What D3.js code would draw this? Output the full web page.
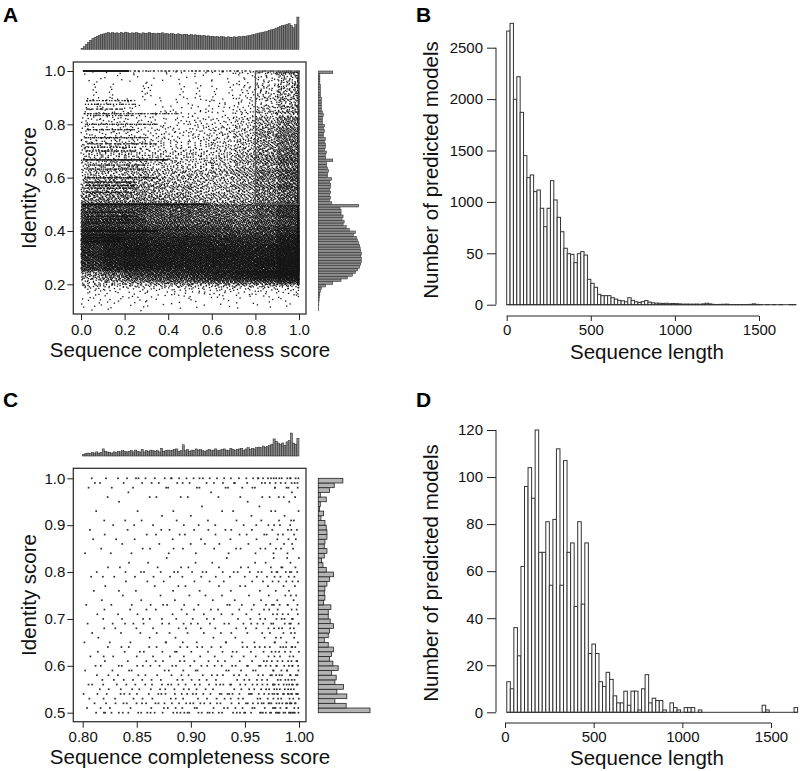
<!DOCTYPE html>
<html><head><meta charset="utf-8">
<script src="https://cdn.jsdelivr.net/npm/d3@7"></script>
<style>
html,body{margin:0;padding:0;background:#fff;}
svg text{font-family:"Liberation Sans",Arial,Helvetica,sans-serif;}
</style></head>
<body><svg id="fig" width="800" height="771" xmlns="http://www.w3.org/2000/svg"></svg>
<script>
// ====================== DATA ======================
// Panel A – top marginal: sequence completeness, 100 bins of 0.01 (0 -> 1)
const complBinA = 0.01;
const complA = [12,32,60,84,108,128,144,156,168,176,184,192,200,188,200,192,196,188,200,192,
 204,196,188,196,192,200,192,184,196,188,192,200,188,192,184,192,188,196,184,188,
 180,188,184,176,184,180,172,180,176,168,176,168,172,164,168,160,164,156,160,152,
 156,148,152,144,152,148,140,148,144,140,148,144,152,148,156,152,160,164,172,176,
 184,192,196,204,208,216,224,232,240,252,260,272,280,288,296,304,280,256,292,384];
// Panel A – right marginal: identity score, bins of 0.01, upper edges 0.11 ... 1.00
const identFirstUpperA = 0.11, identBinA = 0.01;
const identA = [3,4,5,6,8,10,15,20,30,70,140,220,280,330,360,380,400,410,415,418,
 412,418,410,405,400,390,380,370,340,360,300,270,240,250,230,240,220,220,210,390,
 130,110,120,110,120,110,120,120,110,130,90,90,100,90,80,80,140,70,70,80,
 60,70,70,60,70,50,50,60,50,60,40,40,40,50,40,30,30,30,30,30,
 20,20,20,20,20,15,15,15,15,140];
// Panel A – scatter: points per identity bin = identA x scale; spread over completeness
// columns (0.1 wide) with these weights, per identity band (0.05 high)
const scatterScaleA = 1.85;
const bandLowA = [0.10,0.15,0.20,0.25,0.30,0.35,0.40,0.45,0.50,0.55,0.60,0.65,0.70,0.75,0.80,0.85,0.90,0.95];
const bandHeightA = 0.05, colWidthA = 0.1;
const bandWeightsA = [
 [3,2,2,1,1,1,1,1,1,1],
 [6,6,6,6,7,7,7,8,8,8],
 [3,5,7,8,9,10,11,12,14,16],
 [7,9,10,10,10,10,10,10,11,13],
 [8,10,11,10,10,10,10,10,10,12],
 [10,11,11,10,10,10,9,9,9,12],
 [12,12,11,10,10,9,9,8,9,11],
 [11,11,11,10,10,9,8,8,10,13],
 [10,10,10,9,8,7,7,8,11,15],
 [6,7,8,8,7,6,6,8,12,17],
 [5,6,7,6,6,6,7,9,13,19],
 [5,6,6,5,5,5,6,9,14,21],
 [5,5,5,4,4,5,6,9,15,23],
 [4,4,4,4,4,5,6,9,16,25],
 [4,4,3,3,3,4,5,9,17,27],
 [4,4,3,2,3,4,5,8,17,29],
 [3,3,2,2,2,3,4,7,16,30],
 [2,2,2,2,2,3,4,7,15,32]];
// points sitting at completeness = 1.0, per band
const edgeCountA = [0,3,60,110,110,90,70,60,45,35,30,25,22,20,20,18,18,18];
// discrete identity values forming dotted horizontal lines
const stripeIdentA = [1.00,1.00,0.889,0.875,0.857,0.84,0.833,0.80,0.78,0.75,0.727,0.714,0.70,0.667,0.647,0.632,0.60,0.583,0.571,0.56,0.545,0.50,0.47,0.455,0.444,0.43,0.40,0.385,0.375,0.36];
const stripeFromA  = [0.01,0.22,0.02,0.02,0.02,0.01,0.02,0.02,0.02,0.02,0.02,0.02,0.02,0.01,0.02,0.02,0.02,0.02,0.02,0.02,0.02,0.01,0.02,0.02,0.02,0.02,0.01,0.02,0.02,0.02];
const stripeToA    = [0.22,0.78,0.25,0.25,0.20,0.45,0.25,0.35,0.25,0.30,0.35,0.25,0.25,0.40,0.30,0.30,0.35,0.25,0.25,0.25,0.25,0.58,0.25,0.25,0.30,0.25,0.35,0.20,0.20,0.20];
const stripeCountA = [130,50,25,25,20,50,20,40,25,40,40,30,30,110,35,35,60,45,40,35,35,260,40,40,40,35,140,35,35,30];
const highlightA = {compl:[0.8,1.0], ident:[0.5,1.0]};
const xTicksA = [0,0.2,0.4,0.6,0.8,1.0], xTickLabelsA = ["0.0","0.2","0.4","0.6","0.8","1.0"];
const yTicksA = [0.2,0.4,0.6,0.8,1.0], yTickLabelsA = ["0.2","0.4","0.6","0.8","1.0"];

// Panel B – histogram of sequence length, bins of 20 from 0
const binStartB = 0, binWidthB = 20;
const countsB = [2662,2737,1998,2218,1871,1450,1236,1262,1100,1116,938,759,938,1207,1019,850,710,549,496,490,
 409,496,516,483,247,208,169,101,88,88,88,68,55,42,38,28,68,42,28,
 22,30,40,25,18,15,14,12,14,10,12,10,8,5,6,5,5,6,4,8,14,8,3,2,3,4,5,2,1,2,1,1,2,3,8,3,1,0,1,0,1,0,1,0,0,1,1];
const xTicksB = [0,500,1000,1500];
const yTicksB = [0,500,1000,1500,2000,2500], yTickLabelsB = ["0","50","1000","1500","2000","2500"];

// Panel C – top marginal: completeness, 100 bins of 0.002 (0.80 -> 1.00)
const complStartC = 0.8, complBinC = 0.002;
const complC = [3,4,5,4,6,5,7,5,6,12, 8,7,6,5,7,6,8,7,9,8, 7,8,9,7,10,8,7,11,7,9,
 8,10,9,8,9,7,13,8,9,10, 9,10,11,12,8,9,19,9,11,8, 10,9,12,10,11,9,8,10,11,9,
 10,12,9,10,11,12,10,9,13,11, 10,11,12,13,10,12,14,11,13,12,
 14,15,14,17,15,16,18,20,29,25, 22,20,22,18,24,26,39,22,20,30];
// Panel C – right marginal: identity, bins of 0.01 from [0.50,0.51] up to (0.99,1.00]
const identStartC = 0.5, identBinC = 0.01;
const identC = [78,42,25,43,28,38,25,27,20,30,22,17,20,23,15,9,15,17,23,18,
 15,15,19,8,10,9,10,13,17,23,12,7,5,9,13,9,10,13,13,12,
 10,4,8,2,3,12,3,17,24,37];
const firstRowsC = [0.50,0.51], firstShareC = 0.65;
const xTicksC = [0.80,0.85,0.90,0.95,1.00], xTickLabelsC = ["0.80","0.85","0.90","0.95","1.00"];
const yTicksC = [0.5,0.6,0.7,0.8,0.9,1.0], yTickLabelsC = ["0.5","0.6","0.7","0.8","0.9","1.0"];

// Panel D – histogram of sequence length, bins of 20 from 10
const binStartD = 10, binWidthD = 20;
const countsD = [13,10,36,24,62,96,104,91,120,68,68,81,54,82,112,54,107,68,72,45,81,46,72,
 25,29,25,13,11,17,14,7,4,4,9,3,9,9,1,10,16,4,6,5,5,1,0,4,2,1,0,2,2,2,0,1,
 0,0,0,0,0,0,0,0,0,0,0,0,0,0,0,0,0,3,1,0,0,0,0,0,0,0,2];
const xTicksD = [0,500,1000,1500];
const yTicksD = [0,20,40,60,80,100,120];

// ====================== DRAWING ======================
const svg = d3.select("#fig");
const FONT = '"Liberation Sans", Arial, Helvetica, sans-serif';
const TICK_FS = 15, TITLE_FS = 20.5, INK = "#111";

function halton(i, b){ let f = 1, r = 0; while (i > 0){ f /= b; r += f * (i % b); i = Math.floor(i / b); } return r; }
let hIdx = 1;

function styleAxis(g){
  g.attr("font-size", TICK_FS).attr("font-family", FONT);
  g.select(".domain").remove();
  g.selectAll(".tick line").attr("stroke", "#222").attr("stroke-width", 1);
  g.selectAll(".tick text").attr("fill", INK);
}
function title(x, y, txt, rotate){
  const t = svg.append("text").attr("font-size", TITLE_FS).attr("fill", INK)
    .attr("text-anchor", "middle").text(txt);
  if (rotate) t.attr("transform", `translate(${x},${y}) rotate(-90)`).attr("dy", "0.35em");
  else t.attr("x", x).attr("y", y);
}
function letter(x, y, txt){
  svg.append("text").attr("x", x).attr("y", y).attr("font-size", 21).attr("font-weight", "bold")
    .attr("fill", "#000").text(txt);
}

// ---------------- Panel A ----------------
const xA = d3.scaleLinear().domain([0, 1]).range([81, 299]);
const yA = d3.scaleLinear().domain([0.2, 1.0]).range([284.3, 71]);

const ptsA = [];
identA.forEach((cnt, i) => {
  const hi = identFirstUpperA + i * identBinA, lo = hi - identBinA;
  const band = Math.max(0, Math.min(bandLowA.length - 1, Math.floor((lo - bandLowA[0]) / bandHeightA + 1e-6)));
  let stripeN = 0;
  stripeIdentA.forEach((v, s) => { if (v > lo + 1e-9 && v <= hi + 1e-9) stripeN += stripeCountA[s]; });
  const edgeN = Math.round(edgeCountA[band] * identBinA / bandHeightA);
  const nDiff = Math.max(0, Math.round(cnt * scatterScaleA) - stripeN - edgeN);
  const w = bandWeightsA[band], W = d3.sum(w);
  w.forEach((wc, c) => {
    const n = Math.round(nDiff * wc / W);
    for (let k = 0; k < n; k++){
      ptsA.push([c * colWidthA + halton(hIdx, 2) * colWidthA, lo + halton(hIdx, 3) * identBinA]); hIdx++;
    }
  });
  for (let k = 0; k < edgeN; k++){
    ptsA.push([0.994 + halton(hIdx, 2) * 0.006, lo + halton(hIdx, 3) * identBinA]); hIdx++;
  }
});
stripeIdentA.forEach((v, s) => {
  for (let k = 0; k < stripeCountA[s]; k++){
    ptsA.push([stripeFromA[s] + halton(hIdx, 2) * (stripeToA[s] - stripeFromA[s]), v]); hIdx++;
  }
});
svg.append("g").selectAll("rect").data(ptsA).join("rect")
  .attr("x", d => xA(d[0]) - 0.65).attr("y", d => yA(d[1]) - 0.65)
  .attr("width", 1.3).attr("height", 1.3).attr("fill", "#151515");

svg.append("rect")
  .attr("x", xA(highlightA.compl[0])).attr("y", yA(highlightA.ident[1]))
  .attr("width", xA(highlightA.compl[1]) - xA(highlightA.compl[0]))
  .attr("height", yA(highlightA.ident[0]) - yA(highlightA.ident[1]))
  .attr("fill", "none").attr("stroke", "#555").attr("stroke-width", 1.2);

svg.append("rect").attr("x", 73.3).attr("y", 62).attr("width", 232.7).attr("height", 252)
  .attr("fill", "none").attr("stroke", "#333").attr("stroke-width", 1.3);

svg.append("g").attr("transform", "translate(0,314)")
  .call(d3.axisBottom(xA).tickValues(xTicksA).tickFormat((d, i) => xTickLabelsA[i]).tickSize(6).tickPadding(4))
  .call(styleAxis);
svg.append("g").attr("transform", "translate(73.3,0)")
  .call(d3.axisLeft(yA).tickValues(yTicksA).tickFormat((d, i) => yTickLabelsA[i]).tickSize(6).tickPadding(2))
  .call(styleAxis);

// top marginal A
const hTopA = d3.scaleLinear().domain([0, d3.max(complA)]).range([49.3, 17]);
svg.append("g").selectAll("rect").data(complA).join("rect")
  .attr("x", (d, i) => xA(i * complBinA)).attr("width", (d, i) => xA((i + 1) * complBinA) - xA(i * complBinA))
  .attr("y", d => hTopA(d)).attr("height", d => hTopA(0) - hTopA(d))
  .attr("fill", "#7a7a7a").attr("stroke", "#222").attr("stroke-width", 0.45);

// right marginal A
const wRA = d3.scaleLinear().domain([0, d3.max(identA)]).range([318.3, 361.5]);
svg.append("g").selectAll("rect").data(identA).join("rect")
  .attr("x", wRA(0)).attr("width", d => wRA(d) - wRA(0))
  .attr("y", (d, i) => yA(identFirstUpperA + i * identBinA))
  .attr("height", (d, i) => yA(identFirstUpperA + (i - 1) * identBinA) - yA(identFirstUpperA + i * identBinA))
  .attr("fill", "#8c8c8c").attr("stroke", "#222").attr("stroke-width", 0.5);

title(190, 357, "Sequence completeness score", false);
title(29, 188, "Identity score", true);
letter(3, 22, "A");

// ---------------- Panel B ----------------
const xB = d3.scaleLinear().domain([0, 1500]).range([506.7, 759]);
const yB = d3.scaleLinear().domain([0, 2500]).range([304.7, 47.7]);
svg.append("g").selectAll("rect").data(countsB.map((c, i) => ({c, i})).filter(d => d.c > 0)).join("rect")
  .attr("x", d => xB(binStartB + d.i * binWidthB)).attr("width", xB(binWidthB) - xB(0))
  .attr("y", d => yB(d.c)).attr("height", d => yB(0) - yB(d.c))
  .attr("fill", "#fff").attr("stroke", "#333").attr("stroke-width", 1);
svg.append("line").attr("x1", xB(binStartB)).attr("x2", xB(binStartB + countsB.length * binWidthB))
  .attr("y1", yB(0)).attr("y2", yB(0)).attr("stroke", "#333").attr("stroke-width", 1);
svg.append("g").attr("transform", "translate(496,0)")
  .call(d3.axisLeft(yB).tickValues(yTicksB).tickFormat((d, i) => yTickLabelsB[i]).tickSize(9).tickPadding(4))
  .call(styleAxis);
svg.append("line").attr("x1", 496).attr("x2", 496).attr("y1", yB(yTicksB[0])).attr("y2", yB(yTicksB[yTicksB.length - 1]))
  .attr("stroke", "#222");
svg.append("g").attr("transform", "translate(0,316)")
  .call(d3.axisBottom(xB).tickValues(xTicksB).tickFormat(d3.format("d")).tickSize(5).tickPadding(3))
  .call(styleAxis);
svg.append("line").attr("y1", 316).attr("y2", 316).attr("x1", xB(xTicksB[0])).attr("x2", xB(xTicksB[xTicksB.length - 1]))
  .attr("stroke", "#222");
title(647, 358.5, "Sequence length", false);
title(431, 170, "Number of predicted models", true);
letter(416, 22, "B");

// ---------------- Panel C ----------------
const xC = d3.scaleLinear().domain([0.8, 1.0]).range([82.7, 299]);
const yC = d3.scaleLinear().domain([0.5, 1.0]).range([712.7, 478.3]);
const cumC = Array.from(d3.cumsum(complC)), totC = cumC[cumC.length - 1];
const ptsC = [];
identC.forEach((n, i) => {
  for (let k = 0; k < n; k++){
    const u = halton(hIdx, 2), v = halton(hIdx, 3); hIdx++;
    const bin = Math.min(complC.length - 1, d3.bisectRight(cumC, u * totC));
    let row = identStartC + (i + 1) * identBinC;
    if (i === 0) row = k < Math.round(n * firstShareC) ? firstRowsC[0] : firstRowsC[1];
    ptsC.push([complStartC + (bin + v) * complBinC, row]);
  }
});
svg.append("g").selectAll("rect").data(ptsC).join("rect")
  .attr("x", d => xC(d[0]) - 0.85).attr("y", d => yC(d[1]) - 0.85)
  .attr("width", 1.7).attr("height", 1.7).attr("fill", "#2e2e2e");
svg.append("rect").attr("x", 73.3).attr("y", 468.3).attr("width", 232.7).attr("height", 253.4)
  .attr("fill", "none").attr("stroke", "#333").attr("stroke-width", 1.3);
svg.append("g").attr("transform", "translate(0,721.7)")
  .call(d3.axisBottom(xC).tickValues(xTicksC).tickFormat((d, i) => xTickLabelsC[i]).tickSize(6).tickPadding(4))
  .call(styleAxis);
svg.append("g").attr("transform", "translate(73.3,0)")
  .call(d3.axisLeft(yC).tickValues(yTicksC).tickFormat((d, i) => yTickLabelsC[i]).tickSize(6).tickPadding(2))
  .call(styleAxis);

const hTopC = d3.scaleLinear().domain([0, d3.max(complC)]).range([456, 433]);
svg.append("g").selectAll("rect").data(complC).join("rect")
  .attr("x", (d, i) => xC(complStartC + i * complBinC))
  .attr("width", (d, i) => xC(complStartC + (i + 1) * complBinC) - xC(complStartC + i * complBinC))
  .attr("y", d => hTopC(d)).attr("height", d => hTopC(0) - hTopC(d))
  .attr("fill", "#8a8a8a").attr("stroke", "#222").attr("stroke-width", 0.5);
const wRC = d3.scaleLinear().domain([0, d3.max(identC)]).range([318.3, 370]);
svg.append("g").selectAll("rect").data(identC).join("rect")
  .attr("x", wRC(0)).attr("width", d => wRC(d) - wRC(0))
  .attr("y", (d, i) => yC(identStartC + (i + 1) * identBinC))
  .attr("height", (d, i) => yC(identStartC + i * identBinC) - yC(identStartC + (i + 1) * identBinC))
  .attr("fill", "#b4b4b4").attr("stroke", "#222").attr("stroke-width", 0.8);

title(190, 764, "Sequence completeness score", false);
title(29, 595, "Identity score", true);
letter(3, 407, "C");

// ---------------- Panel D ----------------
const xD = d3.scaleLinear().domain([0, 1500]).range([505, 771]);
const yD = d3.scaleLinear().domain([0, 120]).range([712.3, 430]);
svg.append("g").selectAll("rect").data(countsD.map((c, i) => ({c, i})).filter(d => d.c > 0)).join("rect")
  .attr("x", d => xD(binStartD + d.i * binWidthD)).attr("width", xD(binWidthD) - xD(0))
  .attr("y", d => yD(d.c)).attr("height", d => yD(0) - yD(d.c))
  .attr("fill", "#fff").attr("stroke", "#333").attr("stroke-width", 1);
svg.append("line").attr("x1", xD(binStartD)).attr("x2", xD(binStartD + countsD.length * binWidthD))
  .attr("y1", yD(0)).attr("y2", yD(0)).attr("stroke", "#333").attr("stroke-width", 1);
svg.append("g").attr("transform", "translate(496,0)")
  .call(d3.axisLeft(yD).tickValues(yTicksD).tickFormat(d3.format("d")).tickSize(9).tickPadding(4))
  .call(styleAxis);
svg.append("line").attr("x1", 496).attr("x2", 496).attr("y1", yD(yTicksD[0])).attr("y2", yD(yTicksD[yTicksD.length - 1]))
  .attr("stroke", "#222");
svg.append("g").attr("transform", "translate(0,723)")
  .call(d3.axisBottom(xD).tickValues(xTicksD).tickFormat(d3.format("d")).tickSize(5).tickPadding(3))
  .call(styleAxis);
svg.append("line").attr("y1", 723).attr("y2", 723).attr("x1", xD(xTicksD[0])).attr("x2", xD(xTicksD[xTicksD.length - 1]))
  .attr("stroke", "#222");
title(647, 765, "Sequence length", false);
title(431, 573, "Number of predicted models", true);
letter(416, 407, "D");
</script>
</body></html>
